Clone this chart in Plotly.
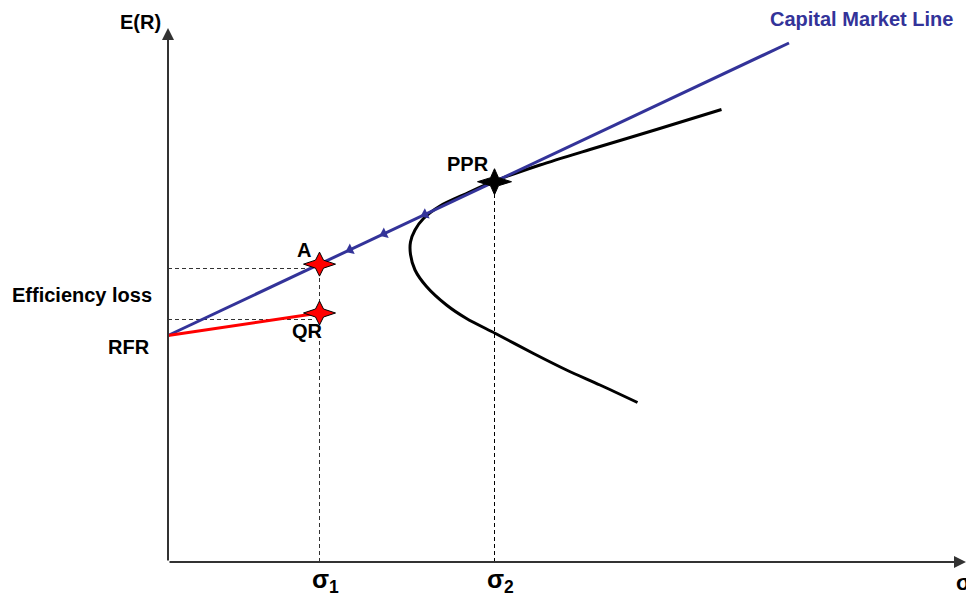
import plotly.graph_objects as go

# --- data (sigma, expected return) ---
rfr = 4.53
cml_end = [12.42, 10.38]           # end of the capital market line
sigma_1 = 3.03
sigma_2 = 6.53
qr_return = 4.98
loss_levels = [5.87, 4.85]         # dashed "efficiency loss" guides
cml_arrow_sigmas = [3.64, 4.32, 5.14]

frontier_sigma = [11.07, 9.77, 8.44, 7.44, 6.56, 5.97, 5.44, 5.11, 4.94, 4.85,
                  4.85, 4.94, 5.17, 5.57, 5.97, 6.55, 7.31, 7.97, 8.64, 9.39]
frontier_ret = [9.05, 8.65, 8.25, 7.94, 7.63, 7.37, 7.12, 6.87, 6.64, 6.40,
                6.15, 5.84, 5.51, 5.14, 4.87, 4.57, 4.17, 3.84, 3.54, 3.19]

axis_max = [15.96, 10.68]

cml_slope = (cml_end[1] - rfr) / cml_end[0]
a_return = rfr + cml_slope * sigma_1
ppr_return = rfr + cml_slope * sigma_2

BLUE = "#333399"
AXIS = "#333333"
FONT = "Liberation Sans, Arial, sans-serif"
DASH = "4px,3px"

fig = go.Figure()

# dashed guides
for lvl in loss_levels:
    fig.add_trace(go.Scatter(x=[0, sigma_1 - 0.15], y=[lvl, lvl], mode="lines",
                             line=dict(color=AXIS, width=1, dash=DASH), hoverinfo="skip"))
fig.add_trace(go.Scatter(x=[sigma_1, sigma_1], y=[0, a_return], mode="lines",
                         line=dict(color=AXIS, width=1, dash=DASH), hoverinfo="skip"))
fig.add_trace(go.Scatter(x=[sigma_2, sigma_2], y=[0, ppr_return], mode="lines",
                         line=dict(color="black", width=1, dash=DASH), hoverinfo="skip"))

# efficient frontier
fig.add_trace(go.Scatter(x=frontier_sigma, y=frontier_ret, mode="lines",
                         line=dict(color="black", width=3, shape="spline", smoothing=0.8),
                         hoverinfo="skip"))

# capital market line
fig.add_trace(go.Scatter(x=[0, cml_end[0]], y=[rfr, cml_end[1]], mode="lines",
                         line=dict(color=BLUE, width=3), hoverinfo="skip"))
arrow_y = [rfr + cml_slope * s for s in cml_arrow_sigmas]
fig.add_trace(go.Scatter(x=cml_arrow_sigmas, y=arrow_y, mode="markers",
                         marker=dict(symbol="triangle-left", size=10, color=BLUE, angle=-25),
                         hoverinfo="skip"))

# red line RFR -> QR
fig.add_trace(go.Scatter(x=[0, sigma_1], y=[rfr, qr_return], mode="lines",
                         line=dict(color="red", width=3), hoverinfo="skip"))


# four-pointed stars, sized in pixels around a data point
def star(x, y, color, w=16, h=12, waist=4):
    path = (f"M{-w},0 L{-waist},{waist} L0,{h} L{waist},{waist} L{w},0 "
            f"L{waist},{-waist} L0,{-h} L{-waist},{-waist} Z")
    fig.add_shape(type="path", xsizemode="pixel", ysizemode="pixel",
                  xanchor=x, yanchor=y, path=path, fillcolor=color,
                  line=dict(color="black", width=1), layer="above")


star(sigma_1, a_return, "red")
star(sigma_1, qr_return, "red")
star(sigma_2, ppr_return, "black", w=17, h=13)

# axes with arrows
for tip in ([axis_max[0], 0], [0, axis_max[1]]):
    fig.add_annotation(x=tip[0], y=tip[1], ax=0, ay=0, axref="x", ayref="y",
                       showarrow=True, arrowhead=2, arrowsize=1.2, arrowwidth=2,
                       arrowcolor=AXIS, text="")

bold = dict(family=FONT, size=20, color="black")


def label(text, x, y, xshift=0, yshift=0, xanchor="center", font=bold):
    fig.add_annotation(x=x, y=y, text=text, showarrow=False, xshift=xshift,
                       yshift=yshift, xanchor=xanchor, yanchor="middle", font=font)


label("<b>A</b>", sigma_1, a_return, xshift=-16, yshift=14)
label("<b>QR</b>", sigma_1, qr_return, xshift=-12, yshift=-18)
label("<b>PPR</b>", sigma_2, ppr_return, xshift=-27, yshift=18)
label("<b>Efficiency loss</b>", 0, 5.34, xshift=-14, xanchor="right")
label("<b>RFR</b>", 0, 4.31, xshift=-16, xanchor="right")
label("<b>E(R)</b>", 0, 10.8, xshift=-5, xanchor="right")
label("<b>Capital Market Line</b>", 13.86, 10.86,
      font=dict(family=FONT, size=20, color=BLUE))
big = dict(family=FONT, size=25, color="black")
label("<b>σ<sub>1</sub></b>", sigma_1, 0, xshift=6, yshift=-19, font=big)
label("<b>σ<sub>2</sub></b>", sigma_2, 0, xshift=6, yshift=-19, font=big)
label("<b>σ</b>", axis_max[0], 0, xshift=-3, yshift=-20,
      font=dict(family=FONT, size=22, color="black"))

# the page body has an 8px margin, so the figure is 8px smaller than the window
fig.update_layout(
    width=966, height=588,
    margin=dict(l=0, r=0, t=0, b=0),
    plot_bgcolor="white", paper_bgcolor="white",
    showlegend=False,
    xaxis=dict(range=[-3.2, 16.12], visible=False, fixedrange=True),
    yaxis=dict(range=[-0.68, 11.08], visible=False, fixedrange=True),
)

fig.write_html("out.html")
